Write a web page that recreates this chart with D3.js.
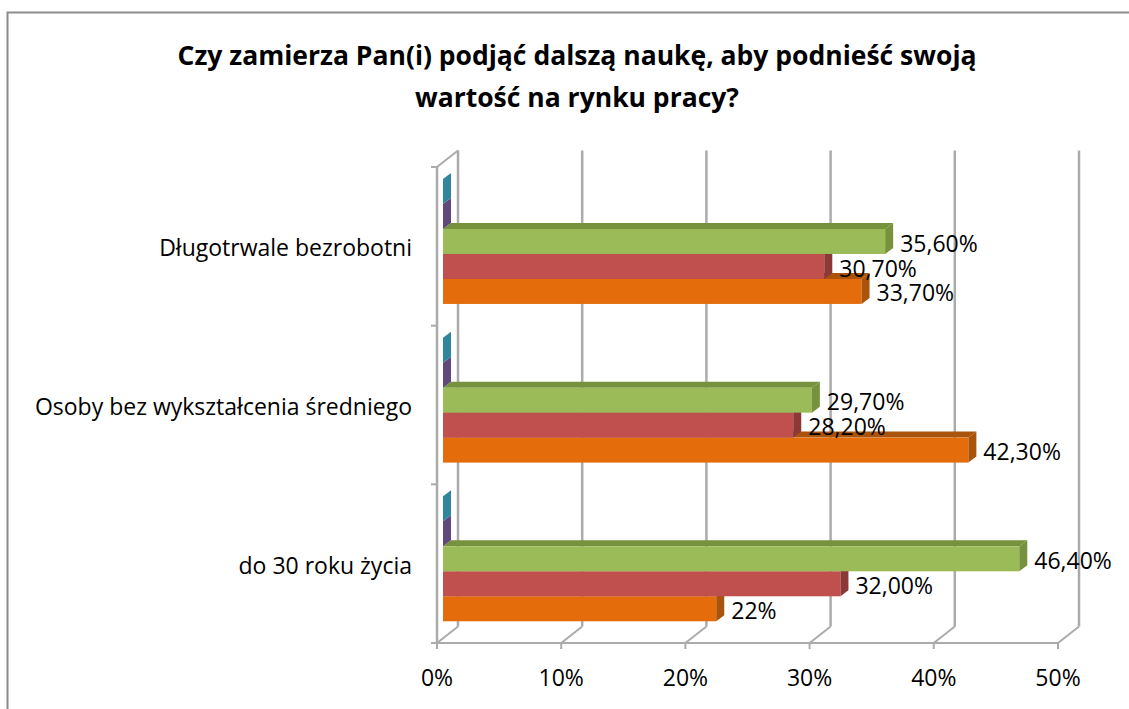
<!DOCTYPE html>
<html>
<head>
<meta charset="utf-8">
<script src="https://cdn.jsdelivr.net/npm/d3@7"></script>
<style>
  body { margin: 0; background: #fff; }
  text { font-family: "Open Sans", sans-serif; }
</style>
</head>
<body>
<svg class="chart"></svg>
<script>
// data
const categories = ["Długotrwale bezrobotni", "Osoby bez wykształcenia średniego", "do 30 roku życia"];
const tealValues   = [0, 0, 0];
const purpleValues = [0, 0, 0];
const greenValues  = [35.6, 29.7, 46.4];
const redValues    = [30.7, 28.2, 32.0];
const orangeValues = [33.7, 42.3, 22];
const greenLabels  = ["35,60%", "29,70%", "46,40%"];
const redLabels    = ["30,70%", "28,20%", "32,00%"];
const orangeLabels = ["33,70%", "42,30%", "22%"];
const xTicks       = [0, 10, 20, 30, 40, 50];
const xTickLabels  = ["0%", "10%", "20%", "30%", "40%", "50%"];

// series top -> bottom inside a category
let series = [
  {values: tealValues,   labels: null,         front: "#4BACC6", side: "#31859C"},
  {values: purpleValues, labels: null,         front: "#8064A2", side: "#5F497A"},
  {values: greenValues,  labels: greenLabels,  front: "#9BBB59", side: "#76923C"},
  {values: redValues,    labels: redLabels,    front: "#C0504D", side: "#8C3836"},
  {values: orangeValues, labels: orangeLabels, front: "#E46C0A", side: "#A9530B"}
];

let width  = 1129;
let height = 709;
let svg = d3.select(".chart").attr("width", width).attr("height", height);

let x = d3.scaleLinear().domain([0, 50]).range([437, 1058]);
let y = d3.scaleBand().domain(categories).range([167, 643]);
let inner = d3.scaleBand().domain(d3.range(series.length))
  .range([0, y.bandwidth()]).paddingOuter(0.675).align(0.356);

let depthX = 21, depthY = -16.5;   // wall depth
let barOff = 6;                     // bars sit a bit behind the front plane
let bdx = 8, bdy = -6;              // bar depth
let grid = "#ABABAB";
let fs = 23;

// back wall grid lines + floor diagonals
let g = svg.append("g");
xTicks.forEach(function(t) {
  g.append("line")
    .attr("x1", x(t) + depthX).attr("x2", x(t) + depthX)
    .attr("y1", 167 + depthY).attr("y2", 643 + depthY)
    .attr("stroke", grid).attr("stroke-width", 2.5);
  g.append("line")
    .attr("x1", x(t)).attr("y1", 643)
    .attr("x2", x(t) + depthX).attr("y2", 643 + depthY)
    .attr("stroke", grid).attr("stroke-width", 2);
  g.append("line")
    .attr("x1", x(t)).attr("x2", x(t))
    .attr("y1", 643).attr("y2", 649)
    .attr("stroke", grid).attr("stroke-width", 2);
});

// left wall
g.append("line").attr("x1", x(0)).attr("x2", x(0)).attr("y1", 167).attr("y2", 643)
  .attr("stroke", grid).attr("stroke-width", 2.5);
g.append("line").attr("x1", x(0)).attr("y1", 167).attr("x2", x(0) + depthX).attr("y2", 167 + depthY)
  .attr("stroke", grid).attr("stroke-width", 2);
g.append("line").attr("x1", x(0)).attr("x2", x(50)).attr("y1", 643).attr("y2", 643)
  .attr("stroke", grid).attr("stroke-width", 2);
categories.concat([null]).forEach(function(c) {
  let yy = c ? y(c) : 643;
  g.append("line").attr("x1", x(0) - 6).attr("x2", x(0)).attr("y1", yy).attr("y2", yy)
    .attr("stroke", grid).attr("stroke-width", 2);
});

// bars, drawn bottom series first so upper bars cover the tops
let bars = svg.append("g");
categories.forEach(function(c, ci) {
  for (let si = series.length - 1; si >= 0; si--) {
    let s = series[si];
    let v = s.values[ci];
    let x0 = x(0) + barOff, x1 = x(v) + barOff;
    let y0 = y(c) + inner(si), y1 = y0 + inner.bandwidth();
    let b = bars.append("g");
    b.append("polygon")
      .attr("points", [[x0, y0], [x0 + bdx, y0 + bdy], [x1 + bdx, y0 + bdy], [x1, y0]].join(" "))
      .attr("fill", s.side);
    b.append("rect")
      .attr("x", x0).attr("y", y0).attr("width", x1 - x0).attr("height", y1 - y0)
      .attr("fill", s.front);
    b.append("polygon")
      .attr("points", [[x1, y0], [x1 + bdx, y0 + bdy], [x1 + bdx, y1 + bdy], [x1, y1]].join(" "))
      .attr("fill", s.side);
  }
});

// data labels
categories.forEach(function(c, ci) {
  series.forEach(function(s, si) {
    if (!s.labels) return;
    svg.append("text")
      .attr("x", x(s.values[ci]) + barOff + bdx + 7)
      .attr("y", y(c) + inner(si) + inner.bandwidth() / 2 + 2)
      .attr("dy", "0.35em")
      .attr("font-size", fs)
      .attr("fill", "#000")
      .text(s.labels[ci]);
  });
});

// category labels
svg.append("g").selectAll("text").data(categories).join("text")
  .attr("x", 412)
  .attr("y", function(d) { return y(d) + y.bandwidth() / 2 + 2; })
  .attr("dy", "0.35em")
  .attr("text-anchor", "end")
  .attr("font-size", fs)
  .attr("fill", "#000")
  .text(function(d) { return d; });

// x tick labels
svg.append("g").selectAll("text").data(xTicks).join("text")
  .attr("x", function(d) { return x(d); })
  .attr("y", 678)
  .attr("dy", "0.35em")
  .attr("text-anchor", "middle")
  .attr("font-size", fs)
  .attr("fill", "#000")
  .text(function(d, i) { return xTickLabels[i]; });

// title
let title = svg.append("text")
  .attr("text-anchor", "middle")
  .attr("font-size", 26.5)
  .attr("font-weight", "bold")
  .attr("fill", "#000");
title.append("tspan").attr("x", 577).attr("y", 65).text("Czy zamierza Pan(i) podjąć dalszą naukę, aby podnieść swoją");
title.append("tspan").attr("x", 577).attr("y", 107).text("wartość na rynku pracy?");

// chart border
svg.append("path")
  .attr("d", "M7.5," + (height + 5) + "V12.5H" + (width + 5))
  .attr("fill", "none")
  .attr("stroke", "#8C8C8C")
  .attr("stroke-width", 2);
</script>
</body>
</html>
